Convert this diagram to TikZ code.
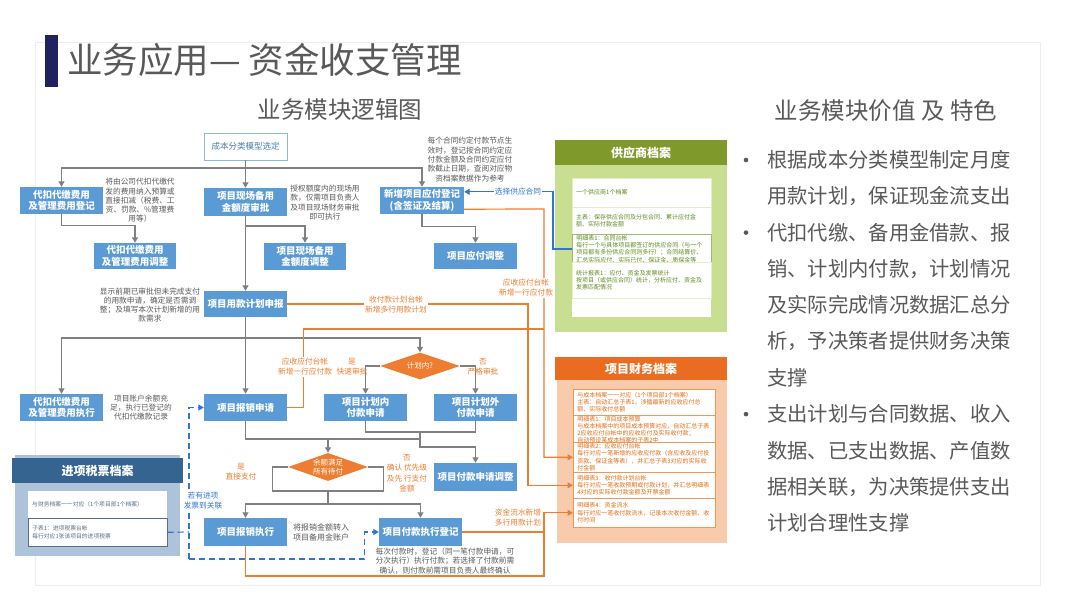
\documentclass[tikz,border=0pt]{standalone}
\usepackage{fontspec}
\setmainfont{Noto Sans CJK SC}
\usetikzlibrary{arrows.meta,shapes.geometric,calc}
\newcommand\myfs[2]{\fontsize{#1}{#2}\selectfont}
\definecolor{bl}{RGB}{91,155,213}
\definecolor{gr}{RGB}{128,128,128}
\definecolor{orc}{RGB}{237,125,49}
\definecolor{bu}{RGB}{47,117,214}
\definecolor{gD}{RGB}{128,153,43}
\definecolor{gL}{RGB}{200,222,145}
\definecolor{gT}{RGB}{94,138,30}
\definecolor{oD}{RGB}{234,108,32}
\definecolor{oL}{RGB}{248,203,173}
\definecolor{oT}{RGB}{226,108,20}
\definecolor{tD}{RGB}{52,100,143}
\definecolor{tL}{RGB}{173,195,218}
\definecolor{tT}{RGB}{90,110,140}
\definecolor{txt}{RGB}{89,89,89}
\definecolor{navy}{RGB}{31,33,96}
\begin{document}
\begin{tikzpicture}[x=1pt,y=-1pt,
  blk/.style={fill=bl,text=white,minimum width=83,minimum height=27,inner sep=1,align=center,font=\bfseries\myfs{9.5}{11.5}},
  dia/.style={shape=diamond,fill=orc,text=white,minimum width=80,minimum height=27,inner sep=0,aspect=3,align=center,font=\myfs{7.5}{9}},
  ann/.style={align=center,text=txt,font=\myfs{7.7}{9.3},inner sep=0},
  olab/.style={align=center,text=orc,font=\myfs{7.7}{10},inner sep=1},
  blab/.style={align=center,text=bu,font=\myfs{7.7}{10},inner sep=1,fill=white},
  ga/.style={draw=gr,line width=1.2,-{Triangle[length=5.5pt,width=6pt]}},
  gl/.style={draw=gr,line width=1.2},
  oa/.style={draw=orc,line width=1.2,-{Triangle[length=5.5pt,width=6pt]}},
  ol/.style={draw=orc,line width=1.2},
  ba/.style={draw=bu,line width=1.2,-{Triangle[length=5.5pt,width=6pt]}},
  bd/.style={draw=bu,line width=1.2,dash pattern=on 6pt off 4pt},
  bda/.style={bd,-{Triangle[length=5.5pt,width=6pt]}},
  srow/.style={fill=white,text width=131,inner xsep=4,inner ysep=1,align=left,text=gT,font=\myfs{6}{7.2},anchor=north west},
  frow/.style={fill=white,draw=orc!80,line width=0.6,text width=134,inner xsep=4,inner ysep=1,align=left,text=oT,font=\myfs{6}{7.2},anchor=north west},
  trow/.style={fill=white,text width=131,inner xsep=4,inner ysep=1,align=left,text=tT,font=\myfs{5.8}{7.2},anchor=north west},
  hdr/.style={text=white,font=\bfseries\myfs{12}{14},inner sep=0},
  rtxt/.style={anchor=west,inner sep=0,text=txt,font=\myfs{20.3}{24}}
]
\useasboundingbox (0,0) rectangle (1080,608);
\fill[white] (0,0) rectangle (1080,608);
\draw[black!7,line width=0.8] (35,42) rectangle (1040,585);

% title
\fill[navy] (45,35) rectangle (58,87);
\node[anchor=west,inner sep=0,text=txt,font=\myfs{35.5}{40}] (title) at (67,60) {业务应用— 资金收支管理};
\node[inner sep=0,text=txt,font=\myfs{23.5}{26}] (sub1) at (340,110) {业务模块逻辑图};
\node[inner sep=0,text=txt,font=\myfs{23.5}{26}] (sub2) at (886,111) {业务模块价值 及 特色};

% right text
\foreach \t [count=\i] in {根据成本分类模型制定月度,用款计划，保证现金流支出,代扣代缴、备用金借款、报,销、计划内付款，计划情况,及实际完成情况数据汇总分,析，予决策者提供财务决策,支撑,支出计划与合同数据、收入,数据、已支出数据、产值数,据相关联，为决策提供支出,计划合理性支撑}{
  \node[rtxt] (r\i) at (767,{160+36.3*(\i-1)}) {\t};
}
\foreach \y in {160,232.6,414.1}{
  \fill[txt] (746,\y) circle (2.3);
}

% ---------- archives ----------
% supplier
\fill[gL] (555,140) rectangle (727,332);
\fill[gD] (555,140) rectangle (727,165);
\node[hdr] (gyh) at (641,152.5) {供应商档案};
\fill[white] (572,178) rectangle (711,317);
\node[srow,minimum height=29,draw=gL!50,line width=0.4] (gy1) at (572,178) {一个供应商1个档案};
\node[srow,minimum height=27,draw=gL!50,line width=0.4] (gy2) at (572,207) {主表：保存供应合同及分包合同、累计应付金\\额、实际付款金额};
\node[srow,minimum height=28,draw=gT!60,line width=0.7] (gy3) at (572,234) {明细表1：合同台帐\\每行一个与具体项目都签订的供应合同（与一个\\项目都有多份供应合同则多行）；合同结算价、\\汇总实际应付、实际已付、保证金、质保金等};
\node[srow,minimum height=36,draw=gL!50,line width=0.4] (gy4) at (572,262) {统计报表1：应付、资金及发票统计\\按项目（或供应合同）统计，分析应付、资金及\\发票匹配情况};

% finance
\fill[oL] (557,357) rectangle (727,543);
\fill[oD] (555,357) rectangle (727,380);
\node[hdr] (fah) at (641,368.5) {项目财务档案};
\node[frow,minimum height=26] (fa0) at (573,389) {与成本档案一一对应（1个项目部1个档案）\\主表：自动汇总子表1，涉循最新的应收应付总\\额、实际收付总额};
\node[frow,minimum height=27] (fa1) at (573,415) {明细表1：项目成本预算\\与成本档案中的项目成本预算对应，自动汇总子表\\2应收应付台帐中的应收应付及实际收付款；\\自动预设某成本档案的子表2中};
\node[frow,minimum height=30] (fa2) at (573,442) {明细表2：应收应付台帐\\每行对应一笔新增的应收应付款（含应收及应付投\\资款、保证金等表），并汇总子表3对应的实际收\\付金额};
\node[frow,minimum height=26] (fa3) at (573,472) {明细表3：收付款计划台帐\\每行对应一笔收款预期或付款计划，并汇总明细表\\4对应的实际收付款金额及开票金额};
\node[frow,minimum height=29] (fa4) at (573,498) {明细表4：资金流水\\每行对应一笔收付款流水，记录本次收付金额、收\\付时间};

% tax
\fill[tL] (15,455) rectangle (180,556);
\fill[tD] (12,458) rectangle (183,483);
\node[hdr] (txh) at (97.5,470.5) {进项税票档案};
\node[trow,minimum height=27] (tx1) at (28,491) {与财务档案一一对应（1个项目部1个档案）};
\node[trow,minimum height=28,draw=tT,line width=0.6] (tx2) at (28,518) {子表1：进项税票台帐\\每行对应1张该项目的进项税票};

% ---------- flow nodes ----------
\node[fill=white,draw=bl!70,line width=0.8,text=bl!80!black,minimum width=83,minimum height=27,font=\myfs{8.5}{10}] (cb) at (245.5,146.5) {成本分类模型选定};
\node[blk] (d1) at (61.5,200.5) {代扣代缴费用\\及管理费用登记};
\node[blk,minimum height=28] (xc) at (245.5,202) {项目现场备用\\金额度审批};
\node[blk,minimum width=84] (xz) at (422,200.5) {新增项目应付登记\\(含签证及结算)};
\node[blk,minimum width=82,minimum height=26] (d2) at (135,256) {代扣代缴费用\\及管理费用调整};
\node[blk,minimum width=82] (xt) at (305,256.5) {项目现场备用\\金额度调整};
\node[blk,minimum height=26] (yt) at (475.5,256) {项目应付调整};
\node[blk,minimum height=26] (jh) at (245.5,304) {项目用款计划申报};
\node[blk] (d3) at (61.5,407.5) {代扣代缴费用\\及管理费用执行};
\node[blk] (bx) at (245.5,407.5) {项目报销申请};
\node[blk] (jn) at (365.5,407.5) {项目计划内\\付款申请};
\node[blk] (jw) at (475.5,407.5) {项目计划外\\付款申请};
\node[dia] (dm1) at (420,366) {计划内?};
\node[dia,minimum height=28] (dm2) at (328,467) {余额满足\\所有待付};
\node[blk,minimum height=28] (ft) at (475.5,477) {项目付款申请调整};
\node[blk,minimum height=28] (bz) at (245.5,532) {项目报销执行};
\node[blk,minimum height=28] (fz) at (420.5,532) {项目付款执行登记};

% ---------- annotations ----------
\node[ann] (n1) at (140,200.5) {将由公司代扣代缴代\\发的费用纳入预算或\\直接扣减（税费、工\\资、罚款、\%管理费\\用等）};
\node[ann] (n2) at (325,202.5) {授权额度内的现场用\\款，仅需项目负责人\\及项目现场财务审批\\即可执行};
\node[ann] (n3) at (470,159.5) {每个合同约定付款节点生\\效时，登记按合同约定应\\付款金额及合同约定应付\\款截止日期，查阅对应物\\资档案数据作为参考};
\node[ann] (n4) at (150,305) {显示前期已审批但未完成支付\\的用款申请，确定是否需调\\整；及填写本次计划新增的用\\款需求};
\node[ann] (n5) at (141,407.5) {项目账户余额充\\足，执行已登记的\\代扣代缴款记录};
\node[ann,align=left,anchor=west,font=\myfs{8}{10}] (n6) at (293,532) {将报销金额转入\\项目备用金账户};
\node[ann] (n7) at (445,561) {每次付款时，登记（同一笔付款申请，可\\分次执行）执行付款；若选择了付款前需\\确认，则付款前需项目负责人最终确认};

% ---------- gray connectors ----------
\coordinate (h1) at (245.5,168);
\draw[ga] (cb.south) -- (xc.north);
\draw[ga] (h1) -| (d1.north);
\draw[ga] (h1) -| (xz.north);
\draw[ga] (d1.south) -- ++(0,11) -| (d2.north);
\draw[ga] (xc.south) -- (jh.north);
\coordinate (h2) at (245.5,226);
\draw[ga] (h2) -| (xt.north);
\draw[ga] (xz.south) -- ++(0,12) -| (yt.north);
\draw[ga] (jh.south) -- (bx.north);
\coordinate (h3) at (245.5,338);
\draw[ga] (h3) -| (d3.north);
\draw[ga] (h3) -| (dm1.north);
\draw[ga] (dm1.west) -| (jn.north);
\draw[ga] (dm1.east) -| (jw.north);
\coordinate (m1) at (420,432);
\coordinate (m2) at (420,439);
\coordinate (m3) at (328,439);
\draw[gl] (jn.south) |- (m1);
\draw[gl] (jw.south) |- (m1);
\draw[gl] (m1) -- (m2);
\draw[gl] (bx.south) |- (m2);
\draw[ga] (m3) -- (dm2.north);
\draw[ga] (m2) -- ++(0,8) -| (ft.north);
\coordinate (m4) at (328,491);
\coordinate (m5) at (328,504);
\draw[gl] (dm2.west) -- ++(-15,0) |- (m4);
\draw[gl] (dm2.east) -- ++(15,0) |- (m4);
\draw[gl] (m4) -- (m5);
\draw[ga] (m5) -| (bz.north);
\draw[ga] (m5) -| (fz.north);

% ---------- orange connectors ----------
\coordinate (oa1) at (544,209);
\coordinate (oc1) at (544,329);
\draw[oa] ($(xz.south east)+(0,-5)$) -- (oa1) |- (fa2.west);
\draw[ol] (bx.east) -- ++(16,0) |- (oc1);
\draw[oa] (jh.east) -| (528,400) |- (fa3.west);
\coordinate (od1) at (544,576);
\draw[oa] (bz.south) |- (od1) |- (fa4.west);
\draw[ol] (fz.east) -- (544,532);

\node[olab,fill=white] (l1) at (396,305) {收付款计划台帐\\新增多行用款计划};
\node[olab,fill=white] (l2) at (526,288) {应收应付台帐\\新增一行应付款};
\node[olab,fill=white] (l3) at (305,367) {应收应付台帐\\新增一行应付款};
\node[olab] (l4) at (518,518) {资金流水新增\\多行用款计划};
\node[olab] (l5) at (352,367) {是\\快速审批};
\node[olab] (l6) at (483,367) {否\\严格审批};
\node[olab] (l7) at (241,472) {是\\直接支付};
\node[olab,font=\myfs{7.7}{10.4}] (l8) at (407,473.5) {否\\确认 优先级\\及先 行支付\\金额};

% ---------- blue connectors ----------
\draw[ba] (gy3.west) -- ++(-19,0) |- ($(xz.north east)+(0,5)$);
\node[blab] (l9) at (518,192) {选择供应合同};
\coordinate (b1) at (189,532);
\coordinate (b2) at (189,559);
\draw[bd] (tx2.east) -- (b1);
\draw[bda] (b2) |- (bx.west);
\draw[bda] (b2) -| ($(fz.west)+(-14,0)$) -- (fz.west);
\node[blab] (l10) at (203,501) {若有进项\\发票到关联};
\end{tikzpicture}
\end{document}
